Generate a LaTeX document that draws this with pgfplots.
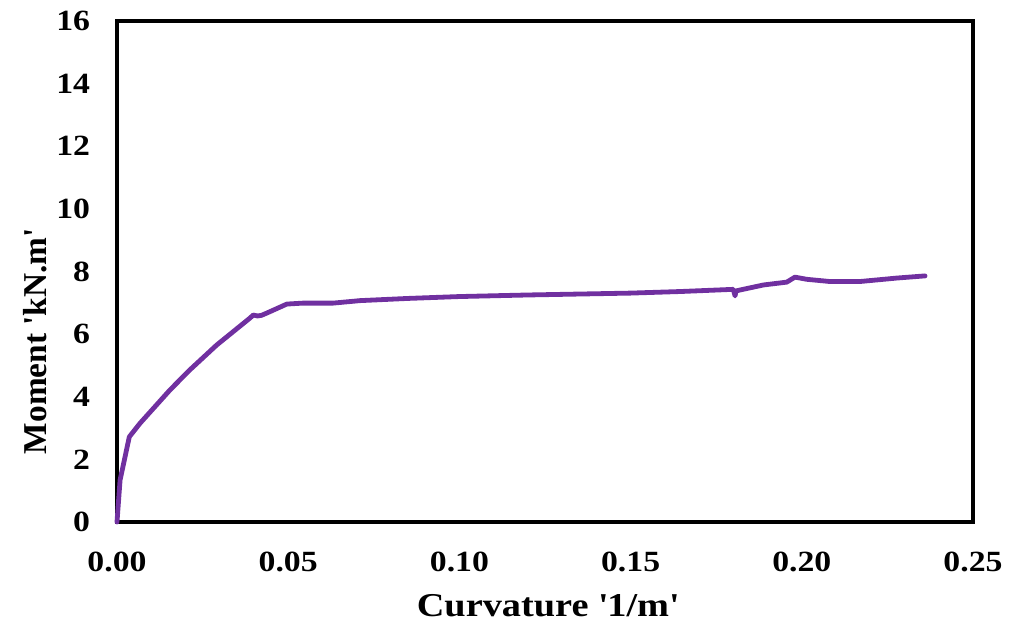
\documentclass[border=0pt]{standalone}
\usepackage{fontspec}
\setmainfont{Liberation Serif}
\newfontfamily\widefont[FakeStretch=1.15]{Liberation Serif}
\usepackage{pgfplots}
\pgfplotsset{compat=1.18}
\definecolor{mmcurve}{RGB}{112,48,160}
\begin{document}
\begin{tikzpicture}
\begin{axis}[
  at={(0,0)}, anchor=south west,
  scale only axis, width=642pt, height=375.75pt,
  xmin=0, xmax=0.25, ymin=0, ymax=16,
  xtick={0,0.05,...,0.25}, ytick={0,2,...,16},
  major tick length=0pt,
  axis line style={line width=2.4pt, black},
  every outer x axis line/.append style={line width=2.4pt},
  every outer y axis line/.append style={line width=2.4pt},
  /pgf/number format/assume math mode=true,
  xticklabel style={font=\widefont\bfseries\fontsize{22}{22}\selectfont, anchor=north, inner sep=0pt, yshift=-22pt,
    /pgf/number format/.cd, fixed, fixed zerofill, precision=2},
  yticklabel style={font=\widefont\bfseries\fontsize{22}{22}\selectfont, anchor=east, inner sep=0pt, xshift=-20pt},
  xlabel={Curvature \textquotesingle1/m\textquotesingle},
  ylabel={Moment \textquotesingle kN.m\textquotesingle},
  xlabel style={font=\widefont\bfseries\fontsize{25}{25}\selectfont, at={(axis description cs:0.503,-0.166)}, anchor=center},
  ylabel style={font=\bfseries\fontsize{25}{25}\selectfont, at={(axis description cs:-0.096,0.361)}, anchor=center},
  clip=false,
]
\addplot[draw=mmcurve, line width=3.6pt, line join=round, line cap=round] coordinates {
(0,0) (0.0009,1.34) (0.0036,2.72) (0.0067,3.15) (0.0155,4.22) (0.0213,4.86)
(0.0291,5.65) (0.0388,6.51) (0.0398,6.61) (0.0410,6.58) (0.0422,6.60) (0.0437,6.67)
(0.0496,6.96) (0.0543,6.99) (0.0631,6.99) (0.071,7.07) (0.085,7.14) (0.10,7.20)
(0.12,7.25) (0.15,7.31) (0.1644,7.36) (0.180,7.43) (0.1805,7.22) (0.1808,7.38) (0.182,7.41)
(0.1888,7.57) (0.1956,7.66) (0.198,7.82) (0.2015,7.75) (0.2082,7.68) (0.217,7.68)
(0.2277,7.79) (0.236,7.86)
};
\end{axis}
\pgfresetboundingbox
\path[use as bounding box] (-87.75pt,-82.5pt) rectangle (669.75pt,391.5pt);
\end{tikzpicture}
\end{document}
